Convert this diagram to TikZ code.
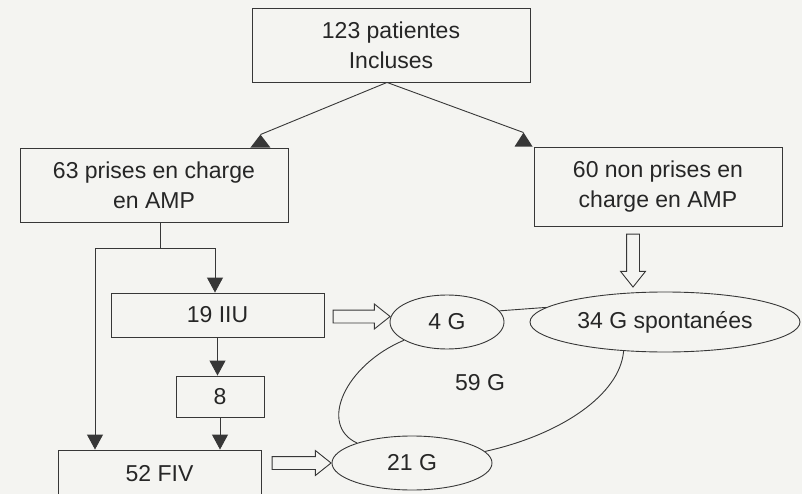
\documentclass[tikz,border=0pt]{standalone}
\usepackage{fontspec}
\setmainfont{Liberation Sans}
\usetikzlibrary{arrows.meta,shapes.geometric,shapes.arrows,calc}
\definecolor{bg}{RGB}{244,244,241}
\definecolor{ink}{RGB}{55,55,55}
\begin{document}
\begin{tikzpicture}[x=1pt,y=-1pt,
  every node/.style={font=\fontsize{23}{30}\selectfont, text=black!85},
  box/.style={draw=ink, line width=0.9pt, rectangle, inner sep=0pt, align=center},
  oval/.style={draw=ink, line width=0.9pt, ellipse, inner sep=0pt},
  link/.style={draw=ink, line width=0.9pt},
  arr/.style={link, -{Triangle[width=16pt,length=15pt]}},
  harrow/.style={draw=ink, line width=0.9pt, single arrow, inner xsep=0pt, inner ysep=6pt,
    single arrow head extend=6pt, single arrow tip angle=77}
]
\fill[bg] (0,0) rectangle (802,494);
\useasboundingbox (0,0) rectangle (802,494);

% boxes
\node[box, minimum width=278pt, minimum height=74pt] (top) at (391,45) {123 patientes\\Incluses};
\node[box, minimum width=268pt, minimum height=74pt] (p63) at (154,185) {63 prises en charge\\en AMP};
\node[box, minimum width=248pt, minimum height=79pt] (p60) at (658,186.5) {60 non prises en\\charge en AMP};
\node[box, minimum width=213pt, minimum height=44pt] (iiu) at (217.5,315) {19 IIU};
\node[box, minimum width=88pt, minimum height=41pt] (n8) at (220,396.5) {8};
\node[box, minimum width=203pt, minimum height=48pt] (fiv) at (159.5,474) {52 FIV};

% ellipses
\node[oval, minimum width=114pt, minimum height=54pt] (g4) at (447,322) {4 G};
\node[oval, minimum width=270pt, minimum height=60pt] (g34) at (665,322) {34 G spontanées};
\node[oval, minimum width=160pt, minimum height=54pt] (g21) at (412,463) {21 G};
\node (g59) at (480,383) {59 G};

% top connectors with triangle marks
\coordinate (tb) at ($(top.south)+(-4,0)$);
\coordinate (tl) at ($(p63.north east)+(-28,0)$);
\coordinate (tr) at ($(p60.north west)+(-10,0)$);
\draw[link] (tb) -- ($(tl)+(0,-13)$);
\draw[link] (tb) -- ($(tr)+(0,-14)$);
\fill[ink] (tl) ++(-10,0) -- ++(10,-13) -- ++(10,13) -- cycle;
\fill[ink] (tr) ++(-9,0) -- ++(9,-14) -- ++(9,14) -- cycle;

% split under 63
\coordinate (js) at (160,248);
\coordinate (jl) at (95,248);
\coordinate (jr) at (215,248);
\draw[link] (p63.south -| js) -- (js);
\draw[link] (jl) -- (jr);
\draw[arr] (jl) -- (jl |- fiv.north);
\draw[arr] (jr) -- (jr |- iiu.north);
\draw[arr] (iiu.south) -- (iiu.south |- n8.north);
\draw[arr] (n8.south) -- (n8.south |- fiv.north);

% hollow arrows
\node[harrow, minimum height=57pt] (a1) at ($(iiu.east)!0.5!(g4.west)+(0.5,-2)$) {};
\node[harrow, minimum height=59pt] (a2) at (297.5,463) {};
\node[harrow, minimum height=53pt, rotate=-90] (a3) at (633,256.5) {};

% loop between the G ellipses
\draw[link] (g4.12) -- (g34.173);
\draw[link] (g4.203) .. controls (345,365) and (318,425) .. (g21.160);
\draw[link] (g34.215) .. controls (620,395) and (560,435) .. (g21.9);
\end{tikzpicture}
\end{document}
